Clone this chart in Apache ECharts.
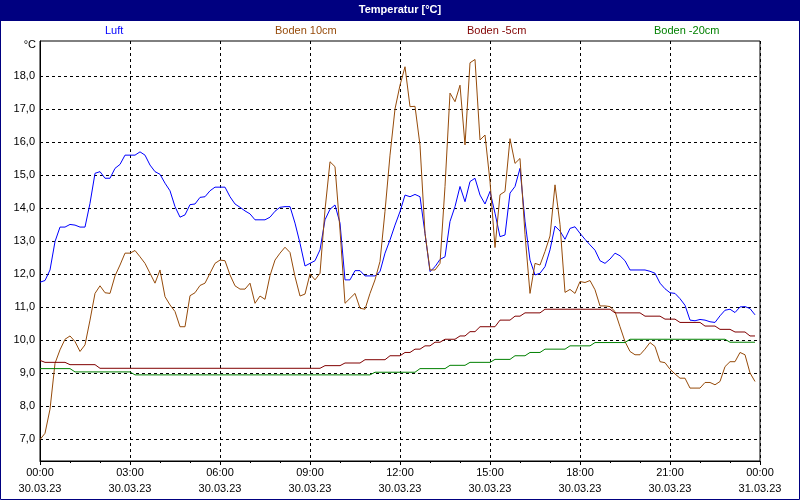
<!DOCTYPE html>
<html><head><meta charset="utf-8">
<script src="https://cdn.jsdelivr.net/npm/echarts@6/dist/echarts.min.js"></script>
<style>html,body{margin:0;padding:0;background:#fff}#c{width:800px;height:500px}</style>
</head><body><div id="c"></div><script>
const times = [
'00:00','00:10','00:20','00:30','00:40','00:50','01:00','01:10','01:20','01:30','01:40','01:50',
'02:00','02:10','02:20','02:30','02:40','02:50','03:00','03:10','03:20','03:30','03:40','03:50',
'04:00','04:10','04:20','04:30','04:40','04:50','05:00','05:10','05:20','05:30','05:40','05:50',
'06:00','06:10','06:20','06:30','06:40','06:50','07:00','07:10','07:20','07:30','07:40','07:50',
'08:00','08:10','08:20','08:30','08:40','08:50','09:00','09:10','09:20','09:30','09:40','09:50',
'10:00','10:10','10:20','10:30','10:40','10:50','11:00','11:10','11:20','11:30','11:40','11:50',
'12:00','12:10','12:20','12:30','12:40','12:50','13:00','13:10','13:20','13:30','13:40','13:50',
'14:00','14:10','14:20','14:30','14:40','14:50','15:00','15:10','15:20','15:30','15:40','15:50',
'16:00','16:10','16:20','16:30','16:40','16:50','17:00','17:10','17:20','17:30','17:40','17:50',
'18:00','18:10','18:20','18:30','18:40','18:50','19:00','19:10','19:20','19:30','19:40','19:50',
'20:00','20:10','20:20','20:30','20:40','20:50','21:00','21:10','21:20','21:30','21:40','21:50',
'22:00','22:10','22:20','22:30','22:40','22:50','23:00','23:10','23:20','23:30','23:40','23:50'
];
const luft = [
11.75,11.8,12.12,12.98,13.42,13.42,13.5,13.48,13.42,13.42,
14.14,15.05,15.1,14.9,14.9,15.2,15.32,15.6,15.6,15.6,
15.7,15.6,15.3,15.1,15.02,14.75,14.52,14.04,13.72,13.79,
14.1,14.12,14.32,14.34,14.52,14.63,14.63,14.63,14.34,14.12,
14.02,13.91,13.82,13.64,13.64,13.64,13.72,13.9,14.02,14.04,
14.04,13.54,12.93,12.24,12.32,12.4,12.73,13.64,13.96,14.09,
13.54,11.82,11.82,12.1,12.1,11.94,11.94,11.94,12.07,12.63,
13.03,13.48,13.89,14.39,14.34,14.41,14.34,13.23,12.07,12.22,
12.44,12.52,13.59,14.04,14.65,14.19,14.8,14.9,14.39,14.12,
14.5,13.84,13.13,13.18,14.45,14.65,15.2,13.6,12.42,11.97,
12.02,12.22,12.73,13.45,13.3,13.05,13.38,13.43,13.23,13.05,
12.88,12.72,12.4,12.32,12.45,12.63,12.55,12.4,12.12,12.12,
12.12,12.12,12.08,12.02,11.72,11.55,11.43,11.41,11.25,11.05,
10.6,10.58,10.62,10.6,10.55,10.53,10.73,10.9,10.93,10.83,
11.0,11.01,10.95,10.76
];
const boden10 = [
6.98,7.17,7.9,9.29,9.7,10.02,10.12,9.95,9.65,9.85,
10.6,11.41,11.64,11.43,11.41,11.94,12.27,12.63,12.63,12.71,
12.52,12.32,12.02,11.72,12.12,11.31,11.06,10.86,10.4,10.4,
11.34,11.43,11.65,11.72,12.02,12.32,12.42,12.4,11.97,11.64,
11.54,11.54,11.72,11.11,11.33,11.23,11.95,12.42,12.63,12.81,
12.65,11.92,11.33,11.39,12.0,11.82,12.02,13.94,15.4,15.25,
13.33,11.11,11.26,11.41,10.96,10.93,11.41,11.82,12.38,13.9,
15.6,17.0,17.72,18.28,17.07,17.08,15.9,13.23,12.12,12.12,
12.32,14.65,17.48,17.22,17.72,15.91,18.4,18.5,16.06,16.21,
14.8,12.8,14.4,14.5,16.1,15.35,15.5,13.2,11.41,12.32,
12.27,12.68,13.15,14.7,13.5,11.44,11.53,11.41,11.77,11.74,
11.8,11.52,11.03,11.03,11.01,10.86,10.4,9.95,9.65,9.55,
9.55,9.72,9.92,9.8,9.34,9.31,9.11,8.97,8.84,8.84,
8.54,8.54,8.54,8.71,8.71,8.64,8.74,9.19,9.34,9.34,
9.62,9.55,9.0,8.74
];
const boden5 = [
9.38,9.32,9.32,9.32,9.32,9.32,9.25,9.25,9.25,9.25,
9.25,9.25,9.14,9.14,9.14,9.14,9.14,9.14,9.14,9.14,
9.14,9.14,9.14,9.14,9.14,9.14,9.14,9.14,9.14,9.14,
9.14,9.14,9.14,9.14,9.14,9.14,9.14,9.14,9.14,9.14,
9.14,9.14,9.14,9.14,9.14,9.14,9.14,9.14,9.14,9.14,
9.14,9.14,9.14,9.14,9.14,9.14,9.14,9.22,9.22,9.22,
9.22,9.3,9.3,9.3,9.3,9.4,9.4,9.4,9.4,9.4,
9.52,9.52,9.52,9.62,9.62,9.72,9.72,9.82,9.82,9.93,
9.93,10.02,10.02,10.02,10.12,10.12,10.25,10.25,10.4,10.4,
10.4,10.4,10.6,10.6,10.6,10.72,10.72,10.82,10.82,10.82,
10.82,10.93,10.93,10.93,10.93,10.93,10.93,10.93,10.93,10.93,
10.93,10.93,10.93,10.93,10.93,10.82,10.82,10.82,10.82,10.82,
10.82,10.72,10.72,10.72,10.72,10.63,10.63,10.63,10.53,10.53,
10.53,10.53,10.53,10.42,10.42,10.42,10.32,10.32,10.32,10.24,
10.24,10.24,10.12,10.12
];
const boden20 = [
9.13,9.13,9.13,9.13,9.13,9.13,9.13,9.03,9.03,9.03,
9.03,9.03,9.03,9.03,9.03,9.03,9.03,9.03,9.03,8.94,
8.94,8.94,8.94,8.94,8.94,8.94,8.94,8.94,8.94,8.94,
8.94,8.94,8.94,8.94,8.94,8.94,8.94,8.94,8.94,8.94,
8.94,8.94,8.94,8.94,8.94,8.94,8.94,8.94,8.94,8.94,
8.94,8.94,8.94,8.94,8.94,8.94,8.94,8.94,8.94,8.94,
8.94,8.94,8.94,8.94,8.94,8.94,8.94,9.02,9.02,9.02,
9.02,9.02,9.02,9.02,9.02,9.02,9.13,9.13,9.13,9.13,
9.13,9.13,9.23,9.23,9.23,9.23,9.32,9.32,9.32,9.32,
9.32,9.41,9.41,9.41,9.41,9.52,9.52,9.52,9.62,9.62,
9.62,9.72,9.72,9.72,9.72,9.72,9.82,9.82,9.82,9.82,
9.82,9.92,9.92,9.92,9.92,9.92,9.92,9.92,10.02,10.02,
10.02,10.02,10.02,10.02,10.02,10.02,10.02,10.02,10.02,10.02,
10.02,10.02,10.02,10.02,10.02,10.02,10.02,10.02,9.93,9.93,
9.93,9.93,9.93,9.93
];
const xTickLabels = ['00:00','03:00','06:00','09:00','12:00','15:00','18:00','21:00','00:00'];
const xDateLabels = ['30.03.23','30.03.23','30.03.23','30.03.23','30.03.23','30.03.23','30.03.23','30.03.23','31.03.23'];
const yTickValues = [7,8,9,10,11,12,13,14,15,16,17,18];
const seriesNames = ['Luft','Boden 10cm','Boden -5cm','Boden -20cm'];
const seriesValues = [luft, boden10, boden5, boden20];
const colors = ['#0000ff','#964b0a','#800000','#008000'];
const legendLeft = [100, 270, 462, 649];

const FONT = "'Liberation Sans Narrow','Liberation Sans',Arial,sans-serif";
function toMin(s){ const p = s.split(':'); return (+p[0]) * 60 + (+p[1]); }
function pairs(vals){ return vals.map((v, i) => [toMin(times[i]), v]); }

const chart = echarts.init(document.getElementById('c'), null, {renderer: 'canvas'});
chart.setOption({
  animation: false,
  backgroundColor: '#ffffff',
  title: {
    text: 'Temperatur [°C]', left: 'center', top: 4, padding: 0,
    textStyle: {color: '#ffffff', fontWeight: 'bold', fontSize: 11, fontFamily: "'Liberation Sans',Arial,sans-serif"}
  },
  legend: seriesNames.map((n, i) => ({
    data: [{name: n, textStyle: {color: colors[i]}}],
    left: legendLeft[i], top: 24, padding: 0, itemWidth: 0, itemHeight: 14, itemGap: 0,
    icon: 'none', selectedMode: false,
    textStyle: {fontSize: 11, fontFamily: FONT, color: colors[i]}
  })),
  graphic: [
    {type: 'rect', z: -10, silent: true, shape: {x: 0, y: 0, width: 800, height: 21}, style: {fill: '#000080'}},
    {type: 'rect', z: 100, silent: true, shape: {x: 0.5, y: 0.5, width: 799, height: 499}, style: {fill: null, stroke: '#000080', lineWidth: 1}}
  ],
  grid: {left: 40, top: 41, width: 720, height: 420, show: true, borderColor: '#000', borderWidth: 1, backgroundColor: 'transparent'},
  xAxis: {
    type: 'value', min: 0, max: 1440, interval: 180,
    axisLine: {show: true, lineStyle: {color: '#000', width: 1}},
    axisTick: {show: true, length: 4, inside: false, lineStyle: {color: '#000'}},
    minorTick: {show: true, splitNumber: 3, length: 2, lineStyle: {color: '#000'}},
    splitLine: {show: true, lineStyle: {color: '#000', type: [3, 3], width: 1}},
    axisLabel: {
      margin: 4, fontSize: 11, lineHeight: 16, color: '#000', fontFamily: FONT,
      formatter: function (v) { const i = Math.round(v / 180); return xTickLabels[i] + '\n' + xDateLabels[i]; }
    }
  },
  yAxis: {
    type: 'value', min: 6.33, max: 19.06,
    name: '°C', nameLocation: 'end', nameGap: -4,
    nameTextStyle: {align: 'right', verticalAlign: 'middle', fontSize: 11, color: '#000', fontFamily: FONT, padding: [0, 4, 0, 0]},
    axisLine: {show: true, lineStyle: {color: '#000', width: 1}},
    axisTick: {show: false, customValues: yTickValues},
    splitLine: {show: true, lineStyle: {color: '#000', type: [3, 3], width: 1}},
    axisLabel: {
      customValues: yTickValues, margin: 5, fontSize: 11, color: '#000', fontFamily: FONT,
      formatter: function (v) { return v.toFixed(1).replace('.', ','); }
    }
  },
  series: seriesNames.map((n, i) => ({
    name: n, type: 'line', data: pairs(seriesValues[i]), showSymbol: false, symbol: 'none',
    lineStyle: {color: colors[i], width: 1}, itemStyle: {color: colors[i]}, silent: true
  }))
});
</script></body></html>
